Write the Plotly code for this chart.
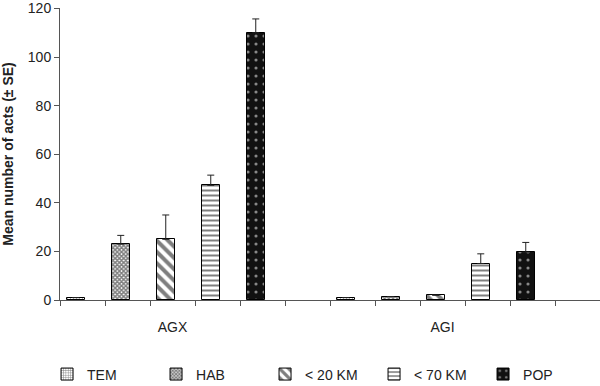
import plotly.graph_objects as go

groups = ["AGX", "AGI"]
series = ["TEM", "HAB", "< 20 KM", "< 70 KM", "POP"]
means = {
    "TEM": [1.0, 1.0],
    "HAB": [23.0, 1.4],
    "< 20 KM": [25.0, 2.0],
    "< 70 KM": [47.2, 15.0],
    "POP": [110.0, 19.7],
}
se = {
    "TEM": [0.0, 0.0],
    "HAB": [3.6, 0.0],
    "< 20 KM": [10.0, 0.0],
    "< 70 KM": [4.2, 4.0],
    "POP": [5.7, 4.0],
}
y_ticks = [0, 20, 40, 60, 80, 100, 120]

patterns = {
    "TEM": dict(shape="+", size=3, solidity=0.35, fgcolor="#000", bgcolor="#fff"),
    "HAB": dict(shape="x", size=3, solidity=0.75, fgcolor="#000", bgcolor="#fff"),
    "< 20 KM": dict(shape="\\", size=8, solidity=0.5, fgcolor="#000", bgcolor="#fff"),
    "< 70 KM": dict(shape="-", size=5, solidity=0.4, fgcolor="#000", bgcolor="#fff"),
    "POP": dict(shape=".", size=8, solidity=0.12, fgcolor="#fff", bgcolor="#111"),
}

group_start = [0, 6]
offset = 0.35

fig = go.Figure()
for i, s in enumerate(series):
    xs = [g + i + offset for g in group_start]
    fig.add_trace(go.Bar(
        x=xs, y=means[s], name=s, width=0.39,
        marker=dict(color="#fff", line=dict(color="#000", width=1), pattern=patterns[s]),
        error_y=dict(type="data", symmetric=False, array=se[s],
                     arrayminus=[0] * len(se[s]), color="#222", thickness=1, width=3.5,
                     visible=True),
    ))

fig.update_layout(
    width=600, height=386,
    margin=dict(l=60, r=0, t=8, b=86, autoexpand=False),
    paper_bgcolor="#fff", plot_bgcolor="#fff",
    font=dict(family="Liberation Sans, Arial, sans-serif", size=14, color="#222"),
    showlegend=True,
    legend=dict(orientation="h", x=-0.024, y=-0.255, xanchor="left", yanchor="middle",
                font=dict(size=14), entrywidth=64, entrywidthmode="pixels",
                itemwidth=30),
    bargap=0,
)
fig.update_xaxes(
    range=[0, 12], tickmode="array", tickvals=[2.5, 8.5], ticktext=groups,
    ticks="outside", ticklen=14, tickcolor="#fff",
    showline=True, linecolor="#555", linewidth=1, showgrid=False, zeroline=False,
    minor=dict(tickmode="linear", tick0=0, dtick=1, ticks="outside", ticklen=5,
               tickcolor="#555", tickwidth=1, showgrid=False),
    tickfont=dict(size=14),
)
fig.update_yaxes(
    range=[0, 120.2], tickmode="array", tickvals=y_ticks,
    ticks="outside", ticklen=5, tickcolor="#555", ticklabeloverflow="allow",
    showline=True, linecolor="#555", linewidth=1, showgrid=False, zeroline=False,
    title=dict(text="<b>Mean number of acts (± SE)</b>", font=dict(size=14), standoff=11),
    tickfont=dict(size=14),
)
fig.write_html("out.html", config={"displayModeBar": False},
               post_script="document.body.style.margin='0';")
